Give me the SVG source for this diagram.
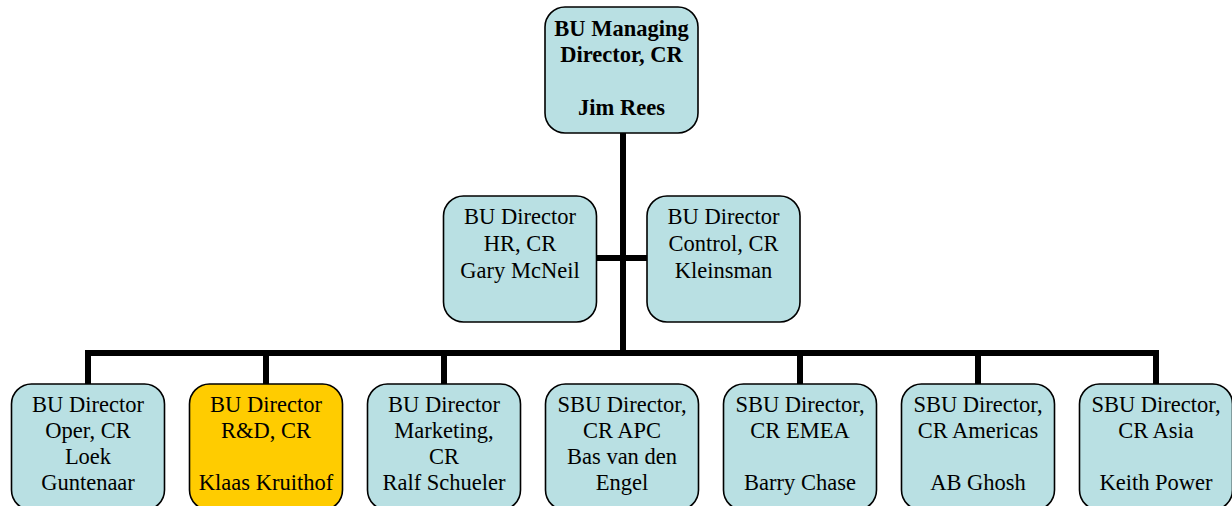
<svg xmlns="http://www.w3.org/2000/svg" width="1232" height="506" viewBox="0 0 1232 506">
<style>
.box{fill:#B9E0E3;stroke:#000;stroke-width:1.6}
.hi{fill:#FFCC00}
.t{font-family:"Liberation Serif","Times New Roman",serif;font-size:22.5px;fill:#000;text-anchor:middle}
.b{font-weight:bold}
.c{stroke:#000;stroke-width:6;fill:none}
</style>
<rect width="1232" height="506" fill="#fff"/>
<g id="connectors">
<path class="c" d="M623 133V353M597 258H647M85 353H1159M88 350V384M266 353V384M444 353V384M800 353V384M978 353V384M1156 350V384"/>
</g>
<g id="n-md"><rect class="box" x="545" y="7" width="153" height="126" rx="20"/>
<text class="t b" x="621.5"><tspan x="621.5" y="36">BU Managing</tspan><tspan x="621.5" y="62.4">Director, CR</tspan><tspan x="621.5" y="115.2">Jim Rees</tspan></text></g>
<g id="n-hr"><rect class="box" x="443.5" y="196" width="153" height="126" rx="20"/>
<text class="t"><tspan x="520" y="224.3">BU Director</tspan><tspan x="520" y="251.3">HR, CR</tspan><tspan x="520" y="278.3">Gary McNeil</tspan></text></g>
<g id="n-control"><rect class="box" x="647" y="196" width="153" height="126" rx="20"/>
<text class="t"><tspan x="723.5" y="224.3">BU Director</tspan><tspan x="723.5" y="251.3">Control, CR</tspan><tspan x="723.5" y="278.3">Kleinsman</tspan></text></g>
<g id="n-oper"><rect class="box" x="11.5" y="384" width="153" height="126" rx="20"/>
<text class="t"><tspan x="88" y="411.5">BU Director</tspan><tspan x="88" y="437.8">Oper, CR</tspan><tspan x="88" y="464.1">Loek</tspan><tspan x="88" y="490.4">Guntenaar</tspan></text></g>
<g id="n-rd"><rect class="box hi" x="189.5" y="384" width="153" height="126" rx="20"/>
<text class="t"><tspan x="266" y="411.5">BU Director</tspan><tspan x="266" y="437.8">R&amp;D, CR</tspan><tspan x="266" y="490.4">Klaas Kruithof</tspan></text></g>
<g id="n-marketing"><rect class="box" x="367.5" y="384" width="153" height="126" rx="20"/>
<text class="t"><tspan x="444" y="411.5">BU Director</tspan><tspan x="444" y="437.8">Marketing,</tspan><tspan x="444" y="464.1">CR</tspan><tspan x="444" y="490.4">Ralf Schueler</tspan></text></g>
<g id="n-apc"><rect class="box" x="545.5" y="384" width="153" height="126" rx="20"/>
<text class="t"><tspan x="622" y="411.5">SBU Director,</tspan><tspan x="622" y="437.8">CR APC</tspan><tspan x="622" y="464.1">Bas van den</tspan><tspan x="622" y="490.4">Engel</tspan></text></g>
<g id="n-emea"><rect class="box" x="723.5" y="384" width="153" height="126" rx="20"/>
<text class="t"><tspan x="800" y="411.5">SBU Director,</tspan><tspan x="800" y="437.8">CR EMEA</tspan><tspan x="800" y="490.4">Barry Chase</tspan></text></g>
<g id="n-americas"><rect class="box" x="901.5" y="384" width="153" height="126" rx="20"/>
<text class="t"><tspan x="978" y="411.5">SBU Director,</tspan><tspan x="978" y="437.8">CR Americas</tspan><tspan x="978" y="490.4">AB Ghosh</tspan></text></g>
<g id="n-asia"><rect class="box" x="1079.5" y="384" width="153" height="126" rx="20"/>
<text class="t"><tspan x="1156" y="411.5">SBU Director,</tspan><tspan x="1156" y="437.8">CR Asia</tspan><tspan x="1156" y="490.4">Keith Power</tspan></text></g>
</svg>
